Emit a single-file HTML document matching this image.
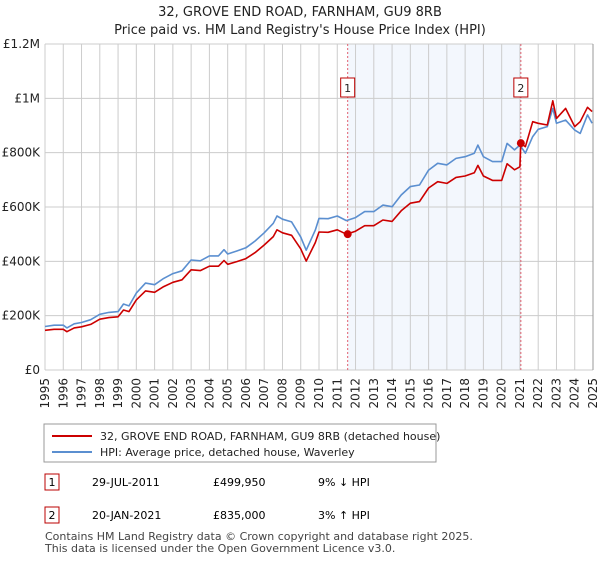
<!DOCTYPE html>
<html><head><meta charset="utf-8">
<style>
body{margin:0;background:#fff;font-family:"Liberation Sans","DejaVu Sans",sans-serif;}
svg text{font-family:"DejaVu Sans","Liberation Sans",sans-serif;}
</style></head>
<body>
<svg id="chart" width="600" height="560" xmlns="http://www.w3.org/2000/svg">
<g id="title">
<text x="300" y="16" text-anchor="middle" font-size="13" fill="#222">32, GROVE END ROAD, FARNHAM, GU9 8RB</text>
<text x="300" y="34" text-anchor="middle" font-size="13" fill="#222">Price paid vs. HM Land Registry's House Price Index (HPI)</text>
</g>
<g id="plot"></g>
<g id="legend">
<rect x="44" y="424" width="392" height="38" fill="#fff" stroke="#999"/>
<line x1="52" y1="436" x2="92" y2="436" stroke="#cc0000" stroke-width="2"/>
<text x="100" y="440" font-size="11" fill="#222">32, GROVE END ROAD, FARNHAM, GU9 8RB (detached house)</text>
<line x1="52" y1="452" x2="92" y2="452" stroke="#5b8fd0" stroke-width="2"/>
<text x="100" y="456" font-size="11" fill="#222">HPI: Average price, detached house, Waverley</text>
</g>
<g id="table">
<rect x="45" y="474" width="14" height="16" fill="#fff" stroke="#b00"/>
<text x="52" y="486" font-size="11" text-anchor="middle">1</text>
<text x="92" y="486" font-size="11">29-JUL-2011</text>
<text x="213" y="486" font-size="11">£499,950</text>
<text x="318" y="486" font-size="11">9% ↓ HPI</text>
<rect x="45" y="507" width="14" height="16" fill="#fff" stroke="#b00"/>
<text x="52" y="519" font-size="11" text-anchor="middle">2</text>
<text x="92" y="519" font-size="11">20-JAN-2021</text>
<text x="213" y="519" font-size="11">£835,000</text>
<text x="318" y="519" font-size="11">3% ↑ HPI</text>
</g>
<g>
<text x="45" y="540" font-size="11" fill="#444">Contains HM Land Registry data © Crown copyright and database right 2025.</text>
<text x="45" y="552" font-size="11" fill="#444">This data is licensed under the Open Government Licence v3.0.</text>
</g>
</svg>
<script>
const hpiYears=[1995,1995.5,1996,1996.2,1996.6,1997,1997.5,1998,1998.5,1999,1999.3,1999.6,2000,2000.5,2001,2001.5,2002,2002.5,2003,2003.5,2004,2004.5,2004.8,2005,2005.5,2006,2006.5,2007,2007.5,2007.7,2008,2008.5,2009,2009.3,2009.8,2010,2010.5,2011,2011.5,2012,2012.5,2013,2013.5,2014,2014.5,2015,2015.5,2016,2016.5,2017,2017.5,2018,2018.5,2018.7,2019,2019.5,2020,2020.3,2020.7,2021,2021.3,2021.7,2022,2022.5,2022.8,2023,2023.5,2024,2024.3,2024.7,2024.95];
const hpiValues=[160,165,165,155,170,175,185,205,212,215,243,236,283,320,314,337,355,365,405,402,420,420,443,427,438,450,475,505,540,567,555,545,490,441,515,558,557,567,550,561,583,583,607,601,644,675,681,736,761,755,779,785,798,828,785,767,767,834,810,828,798,859,886,896,963,908,920,883,871,939,908];
const priceYears=[1995,1995.5,1996,1996.2,1996.6,1997,1997.5,1998,1998.5,1999,1999.3,1999.6,2000,2000.5,2001,2001.5,2002,2002.5,2003,2003.5,2004,2004.5,2004.8,2005,2005.5,2006,2006.5,2007,2007.5,2007.7,2008,2008.5,2009,2009.3,2009.8,2010,2010.5,2011,2011.5,2012,2012.5,2013,2013.5,2014,2014.5,2015,2015.5,2016,2016.5,2017,2017.5,2018,2018.5,2018.7,2019,2019.5,2020,2020.3,2020.7,2021,2021.05,2021.3,2021.7,2022,2022.5,2022.8,2023,2023.5,2024,2024.3,2024.7,2024.95];
const priceValues=[146,150,150,141,155,159,168,187,193,196,221,215,258,291,286,307,323,332,369,366,382,382,403,389,399,410,432,460,491,516,505,496,446,401,469,508,507,516,500,511,531,531,552,547,586,614,620,670,693,687,709,714,726,753,714,698,698,759,737,748,835,822,914,908,902,991,926,963,896,914,967,951];
const saleYears=[2011.57,2021.05];
const saleValues=[499.95,835];
const saleLabels=["1","2"];
const yTicks=[0,200,400,600,800,1000,1200];
const yTickLabels=["£0","£200K","£400K","£600K","£800K","£1M","£1.2M"];
const xTicks=[1995,1996,1997,1998,1999,2000,2001,2002,2003,2004,2005,2006,2007,2008,2009,2010,2011,2012,2013,2014,2015,2016,2017,2018,2019,2020,2021,2022,2023,2024,2025];

const NS="http://www.w3.org/2000/svg";
const X0=45,X1=593,Y0=370,Y1=44;
const xs=y=>X0+(y-1995)/30*(X1-X0);
const ys=v=>Y0-v/1200*(Y0-Y1);
const plot=document.getElementById('plot');
function mk(t,a,p){const e=document.createElementNS(NS,t);for(const k in a)e.setAttribute(k,a[k]);(p||plot).appendChild(e);return e;}
const sh=mk('rect',{x:xs(saleYears[0]),y:Y1,width:xs(saleYears[1])-xs(saleYears[0]),height:Y0-Y1,fill:'#eef3fc',opacity:0.7});


xTicks.forEach(t=>{
  const l=mk('line',{x1:xs(t),x2:xs(t),y1:Y1,y2:Y0,stroke:'#ccc','stroke-width':1});
  
  
  const tx=mk('text',{x:0,y:0,'font-size':12,fill:'#222','text-anchor':'end',transform:`translate(${xs(t)+4},378) rotate(-90)`});
  tx.textContent=t;
  
  
});
yTicks.forEach((t,i)=>{
  const l=mk('line',{x1:X0,x2:X1,y1:ys(t),y2:ys(t),stroke:'#ccc','stroke-width':1});
  
  
  const tx=mk('text',{x:40,y:ys(t)+4,'font-size':12,fill:'#222','text-anchor':'end'});
  tx.textContent=yTickLabels[i];
  
  
});
saleYears.forEach((y,i)=>{
  const l=mk('line',{x1:xs(y),x2:xs(y),y1:Y1,y2:Y0,stroke:'#e06070','stroke-width':1,'stroke-dasharray':'2,2'});
  
  
  const b=mk('rect',{x:xs(y)-7,y:78,width:14,height:19,fill:'#fff',stroke:'#b00'});
  
  
  const t=mk('text',{x:xs(y),y:92,'font-size':11,'text-anchor':'middle',fill:'#222'});
  t.textContent=saleLabels[i];
  
  
});
function line(xa,va,col,name){
  const d=xa.map((x,i)=>(i?'L':'M')+xs(x).toFixed(1)+','+ys(va[i]).toFixed(1)).join('');
  const p=mk('path',{d:d,fill:'none',stroke:col,'stroke-width':1.6,'stroke-linejoin':'round'});
  
  
}
line(hpiYears,hpiValues,'#5b8fd0','hpi-line');
line(priceYears,priceValues,'#cc0000','price-paid-line');
saleYears.forEach((y,i)=>{
  const c=mk('circle',{cx:xs(y),cy:ys(saleValues[i]),r:4,fill:'#cc0000'});
  
  
});
const ax=mk('line',{x1:X1,x2:X1,y1:Y1,y2:Y0,stroke:'#999'});


</script>
</body></html>
